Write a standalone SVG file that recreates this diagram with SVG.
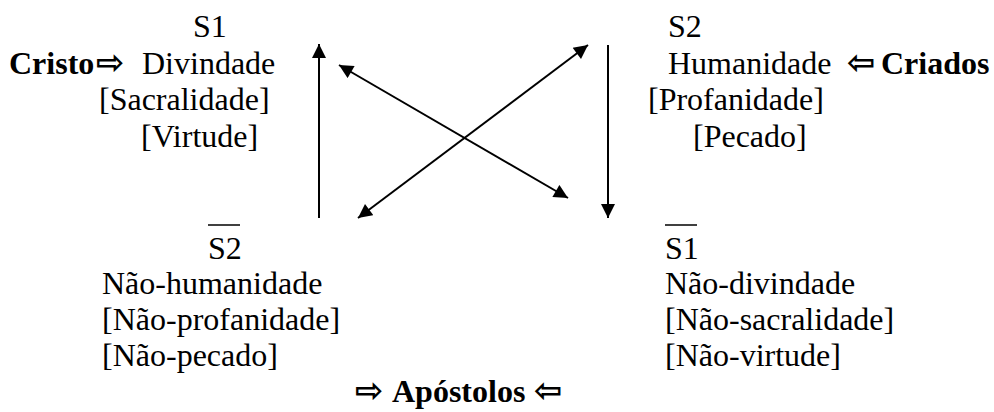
<svg xmlns="http://www.w3.org/2000/svg" width="994" height="412" viewBox="0 0 994 412">
<style>
text{font-family:"Liberation Serif","Times New Roman",serif;font-size:32px;fill:#000}
.b{font-weight:bold}
.sym{font-family:"DejaVu Sans",sans-serif;font-weight:bold;font-size:34px}
.ln{stroke:#000;stroke-width:2;fill:none}
.ov{stroke:#000;stroke-width:1.5}
</style>
<defs>
<marker id="ah" viewBox="0 0 10 10" refX="10" refY="5" markerWidth="7.5" markerHeight="7" markerUnits="strokeWidth" orient="auto-start-reverse"><path d="M0,0 L10,5 L0,10 z" fill="#000"/></marker>
</defs>
<rect width="994" height="412" fill="#fff"/>
<g id="s1">
<text x="193" y="37">S1</text>
<text x="9" y="74" class="b">Cristo</text><text x="96" y="74" class="sym">⇨</text>
<text x="142" y="74">Divindade</text>
<text x="99" y="110">[Sacralidade]</text>
<text x="141" y="147">[Virtude]</text>
</g>
<g id="s2">
<text x="668" y="37">S2</text>
<text x="668" y="74">Humanidade</text>
<text x="847" y="74" class="sym">⇦</text><text x="881" y="74" class="b">Criados</text>
<text x="648" y="110">[Profanidade]</text>
<text x="693" y="147">[Pecado]</text>
</g>
<g id="nao-s2">
<line class="ov" x1="208" y1="225" x2="240" y2="225"/>
<text x="208" y="259">S2</text>
<text x="102" y="294">Não-humanidade</text>
<text x="102" y="330">[Não-profanidade]</text>
<text x="102" y="366">[Não-pecado]</text>
</g>
<g id="nao-s1">
<line class="ov" x1="665" y1="225" x2="697" y2="225"/>
<text x="665" y="259">S1</text>
<text x="665" y="294">Não-divindade</text>
<text x="665" y="330">[Não-sacralidade]</text>
<text x="665" y="366">[Não-virtude]</text>
</g>
<g id="apostolos">
<text x="355" y="402" class="sym">⇨</text>
<text x="392" y="402" class="b">Apóstolos</text>
<text x="534" y="402" class="sym">⇦</text>
</g>
<g id="connectors">
<line class="ln" x1="319" y1="218" x2="319" y2="44" marker-end="url(#ah)"/>
<line class="ln" x1="608" y1="45" x2="608" y2="218" marker-end="url(#ah)"/>
<line class="ln" x1="339" y1="65" x2="568" y2="198" marker-start="url(#ah)" marker-end="url(#ah)"/>
<line class="ln" x1="358" y1="218" x2="588" y2="45" marker-start="url(#ah)" marker-end="url(#ah)"/>
</g>
</svg>
